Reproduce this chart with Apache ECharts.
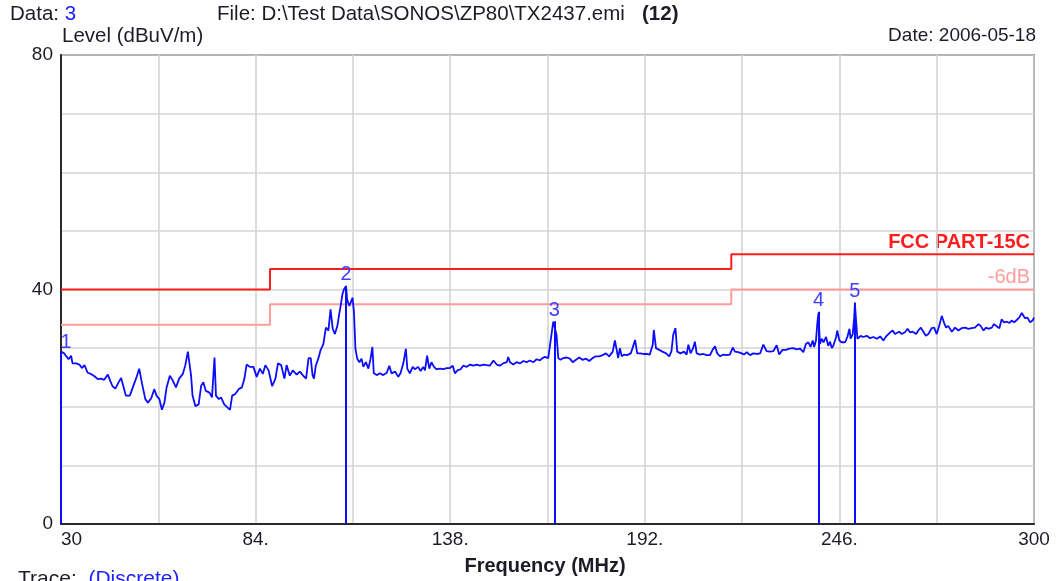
<!DOCTYPE html>
<html>
<head>
<meta charset="utf-8">
<script src="https://cdn.jsdelivr.net/npm/echarts@6/dist/echarts.min.js"></script>
<style>
html,body{margin:0;padding:0;background:#fff;}
#chart{width:1056px;height:581px;}
</style>
</head>
<body>
<div id="chart"></div>
<script>
// ---------- DATA ----------
const xTickValues = [30, 84, 138, 192, 246, 300];
const xTickLabels = ['30', '84.', '138.', '192.', '246.', '300'];
const yTickValues = [0, 40, 80];
const yTickLabels = ['0', '40', '80'];

// FCC PART-15C limit (dBuV/m) and the -6dB margin line
const limitFreq = [30, 88, 88, 216, 216, 300];
const limitLevel = [40, 40, 43.5, 43.5, 46, 46];
const marginLevel = [34, 34, 37.5, 37.5, 40, 40];

// discrete markers
const markerFreq = [30, 109.1, 166.9, 240.2, 250.3];
const markerLevel = [29.4, 40.6, 34.6, 36.2, 37.8];
const markerLabels = ['1', '2', '3', '4', '5'];

// measured trace [MHz, dBuV/m]
const trace30to99 = [
[30,29.4],[30.3,29.5],[30.9,29.1],[31.6,28.5],[32.1,28.1],[32.8,28.7],[33.2,27.4],[34.2,27.4],[35.1,27.2],[35.8,26.6],
[36.5,27.1],[37.4,25.8],[38.3,25.6],[39.3,25.2],[40.2,24.7],[41.1,24.8],[42.0,24.6],[43.0,25.5],[43.6,24.5],[44.3,23.5],
[45.1,23.1],[46.0,24.2],[46.7,24.9],[47.3,23.5],[48.0,21.9],[49.1,21.9],[50.1,23.6],[51.0,25.1],[51.7,26.5],[52.5,23.9],
[53.4,21.3],[54.1,20.7],[55.0,21.4],[55.9,23.0],[56.5,21.9],[57.3,21.3],[58.0,19.5],[58.7,20.7],[59.3,23.3],[60.2,25.3],
[61.0,24.5],[61.9,23.3],[62.8,24.8],[63.8,25.6],[64.5,27.1],[65.2,29.4],[65.6,29.5],[66.1,25.3],[66.5,21.9],[67.3,20.1],
[68.2,20.4],[68.9,23.6],[69.5,24.2],[70.2,22.7],[71.2,22.4],[71.9,21.6],[72.6,28.4],[73.0,21.9],[73.8,21.3],[74.4,21.6],
[75.3,20.4],[76.3,19.8],[76.9,19.5],[77.5,21.9],[78.4,22.2],[79.3,23.0],[80.2,23.3],[80.9,24.8],[81.5,27.2],[82.4,26.8],
[83.4,26.8],[84.3,25.1],[85.2,26.5],[86.0,25.6],[86.7,27.1],[87.6,26.2],[88.6,23.5],[89.5,24.8],[90.2,27.4],[91.1,27.1],
[92.0,24.8],[92.6,27.1],[93.5,25.3],[94.3,26.2],[95.4,25.5],[96.3,26.0],[97.2,25.3],[98.0,24.8],[98.7,28.3]
];
const trace99to165 = [
[99.3,28.3],[99.8,25.4],[100.2,24.8],[100.7,27.0],[101.4,28.2],[102.0,29.6],[102.8,30.7],[103.5,33.5],[104.2,33.0],[104.8,36.6],
[105.4,33.3],[106.0,32.4],[106.7,33.8],[107.2,35.8],[107.6,37.2],[108.1,39.2],[108.5,40.0],[109.1,40.6],[109.4,38.3],[110.0,37.2],
[110.4,37.8],[110.9,38.6],[111.3,36.1],[111.7,29.9],[112.2,28.2],[112.8,27.6],[113.4,28.2],[113.9,26.8],[114.6,27.6],[115.3,26.5],
[115.9,28.2],[116.4,30.2],[116.8,25.7],[117.6,25.4],[118.5,25.7],[119.4,25.4],[120.4,25.8],[121.1,27.0],[121.7,25.7],[122.7,26.0],
[123.6,25.1],[124.2,25.7],[125.0,27.4],[125.7,29.9],[126.1,26.5],[126.8,25.7],[127.6,26.8],[128.2,26.4],[129.1,26.8],[129.8,26.1],
[130.5,26.8],[131.0,26.2],[131.6,28.7],[132.2,26.5],[132.8,27.6],[133.5,26.8],[134.2,26.4],[135.2,26.5],[136.1,26.4],[137.0,26.6],
[137.9,26.6],[138.7,27.0],[139.3,25.7],[140.0,26.2],[140.9,26.4],[141.6,27.0],[142.6,26.8],[143.5,27.2],[144.4,27.0],[145.3,27.2],
[146.3,27.0],[147.2,27.2],[148.1,27.1],[149.0,27.0],[150.0,27.9],[150.9,27.2],[151.8,27.0],[152.7,27.4],[153.7,27.6],[154.1,28.5],
[154.6,27.6],[155.5,27.2],[156.4,27.6],[157.4,27.4],[158.3,27.8],[159.2,27.6],[160.1,27.9],[161.1,27.6],[162.0,28.1],[162.9,27.9],
[163.6,28.3],[164.3,28.5],[165.2,28.3]
];
const trace165to232 = [
[165.5,28.3],[166.1,32.3],[166.6,34.5],[166.9,34.6],[167.1,34.3],[167.5,32.3],[168.0,28.3],[168.6,28.0],[169.4,28.3],[170.3,28.4],
[171.2,28.2],[172.0,27.6],[172.9,28.0],[173.8,28.4],[174.7,28.0],[175.7,28.2],[176.6,27.8],[177.5,28.3],[178.4,28.6],[179.4,28.6],
[180.3,28.8],[181.2,29.1],[182.1,28.6],[183.1,29.4],[183.7,31.3],[184.2,29.7],[184.6,28.3],[185.1,30.0],[185.6,28.6],[186.2,28.9],
[187.1,28.8],[188.1,29.1],[188.6,30.0],[189.3,31.4],[189.9,29.1],[190.7,29.1],[191.6,29.0],[192.5,29.0],[193.4,28.9],[194.2,30.6],
[194.5,33.1],[195.1,30.0],[196.0,29.7],[196.9,29.4],[197.9,29.1],[198.8,28.6],[199.4,29.5],[199.9,32.3],[200.5,33.4],[201.0,29.4],
[201.9,29.1],[202.9,29.4],[203.6,28.9],[204.1,30.6],[204.7,29.1],[205.4,30.0],[205.9,31.1],[206.4,29.1],[207.3,28.9],[208.2,29.0],
[209.2,28.8],[210.1,28.8],[210.8,29.7],[211.5,30.3],[212.1,29.1],[212.9,28.6],[213.8,28.9],[214.7,28.8],[215.6,28.9],[216.4,30.1],
[217.0,29.4],[217.9,29.3],[218.9,29.1],[219.5,28.9],[220.3,29.3],[221.2,28.8],[222.1,29.1],[223.0,29.0],[224.0,29.1],[224.9,30.6],
[225.8,29.5],[226.7,29.4],[227.7,29.5],[228.6,30.5],[229.3,28.9],[230.2,29.7],[231.2,29.7],[232.1,29.9]
];
const trace232to300 = [
[233.2,30.0],[234.1,29.8],[235.1,29.9],[236.0,29.3],[236.7,30.7],[237.4,31.0],[238.0,30.2],[238.6,31.3],[239.0,30.2],[239.5,31.3],
[239.9,34.4],[240.2,36.0],[240.6,30.7],[241.1,31.6],[241.6,31.0],[242.3,31.9],[242.9,30.4],[243.4,31.1],[243.9,30.0],[244.3,30.4],
[245.1,31.9],[245.4,33.0],[246.0,31.3],[246.6,31.0],[247.6,31.0],[248.2,31.9],[248.8,33.3],[249.1,31.6],[249.7,32.4],[250.1,35.2],
[250.3,37.6],[250.6,34.9],[251.0,31.6],[251.5,31.3],[251.9,32.1],[252.6,31.9],[253.6,32.1],[254.5,31.7],[255.4,31.9],[256.4,31.6],
[257.3,32.0],[258.2,31.3],[259.1,32.1],[260.1,32.7],[260.8,33.0],[261.4,32.4],[261.9,32.1],[262.6,32.8],[263.3,32.4],[264.2,32.7],
[264.9,33.3],[265.6,32.7],[266.3,32.8],[267.3,32.4],[267.9,33.0],[268.6,33.5],[269.3,32.8],[270.0,32.1],[270.7,32.4],[271.6,33.4],
[272.3,33.5],[273.0,32.4],[273.7,33.8],[274.4,35.5],[275.0,34.4],[275.6,33.5],[276.2,33.8],[277.2,32.8],[278.1,33.5],[279.0,33.0],
[279.9,33.4],[280.9,33.5],[281.8,33.3],[282.7,33.4],[283.6,33.5],[284.6,34.1],[285.2,33.8],[286.0,33.0],[286.7,33.5],[287.3,33.3],
[288.3,33.5],[288.9,34.1],[289.7,33.7],[290.4,33.4],[291.0,34.9],[291.7,34.4],[292.4,34.5],[293.2,34.3],[293.8,34.7],[294.5,34.4],
[295.2,34.8],[295.9,35.2],[296.6,36.0],[297.1,35.8],[297.5,35.1],[298.2,35.2],[298.9,34.4],[299.6,34.7],[300,35.2]
];

// ---------- BUILD ----------
const FONT = 'Liberation Sans';
const TXT = '#1c1c28';
const traceData = [].concat(trace30to99, trace99to165, trace165to232, trace232to300);
const limitData = limitFreq.map((f, i) => [f, limitLevel[i]]);
const marginData = limitFreq.map((f, i) => [f, marginLevel[i]]);
const markerLines = markerFreq.map((f, i) => [
  { coord: [f, 0] },
  { coord: [f, markerLevel[i]], label: i === 0 ? { formatter: markerLabels[i], offset: [5, 2] } : { formatter: markerLabels[i] } }
]);

const chart = echarts.init(document.getElementById('chart'));
chart.setOption({
  animation: false,
  backgroundColor: '#fff',
  textStyle: { fontFamily: FONT },
  grid: { left: 61, right: 22, top: 55, bottom: 57, show: true, borderColor: '#2a2a2a', borderWidth: 1.5, backgroundColor: 'transparent' },
  xAxis: {
    type: 'value', min: 30, max: 300, interval: 27,
    axisLine: { show: true, onZero: false, lineStyle: { color: '#2a2a2a', width: 2 } },
    axisTick: { show: false },
    splitLine: { show: true, lineStyle: { color: '#d4d4d4', width: 1.6 } },
    axisLabel: {
      color: TXT, fontSize: 19, fontFamily: FONT, margin: 6,
      alignMinLabel: 'left',
      formatter: v => { const i = xTickValues.indexOf(Math.round(v)); return i >= 0 ? xTickLabels[i] : ''; }
    }
  },
  yAxis: {
    type: 'value', min: 0, max: 80, interval: 10,
    axisLine: { show: true, lineStyle: { color: '#2a2a2a', width: 2 } },
    axisTick: { show: false },
    splitLine: { show: true, lineStyle: { color: '#d4d4d4', width: 1.6 } },
    axisLabel: {
      color: TXT, fontSize: 19, fontFamily: FONT, margin: 8,
      formatter: v => { const i = yTickValues.indexOf(Math.round(v)); return i >= 0 ? yTickLabels[i] : ''; }
    }
  },
  series: [
    { name: '-6dB', type: 'line', data: marginData, showSymbol: false, silent: true,
      lineStyle: { color: '#ff9c9c', width: 2 }, z: 2 },
    { name: 'FCC PART-15C', type: 'line', data: limitData, showSymbol: false, silent: true,
      lineStyle: { color: '#ff1c1c', width: 2 }, z: 3 },
    { name: 'trace', type: 'line', data: traceData, showSymbol: false, silent: true,
      lineStyle: { color: '#0c0cff', width: 1.8 }, z: 4,
      markLine: {
        silent: true, symbol: ['none', 'none'], animation: false,
        lineStyle: { color: '#0c0cff', width: 2, type: 'solid' },
        label: { show: true, position: 'end', distance: 1, color: '#4040ff', fontSize: 20, fontFamily: FONT },
        data: markerLines
      }
    }
  ],
  graphic: [
    { type: 'text', left: 10, top: 4, style: { text: '{a|Data: }{b|3}', rich: {
        a: { fill: TXT, font: '20.5px ' + FONT }, b: { fill: '#2020ff', font: '20.5px ' + FONT } } } },
    { type: 'text', left: 217, top: 4, style: { text: 'File: D:\\Test Data\\SONOS\\ZP80\\TX2437.emi', fill: TXT, font: '20.5px ' + FONT } },
    { type: 'text', left: 642, top: 4, style: { text: '(12)', fill: TXT, font: 'bold 20.5px ' + FONT } },
    { type: 'text', left: 62, top: 26, style: { text: 'Level (dBuV/m)', fill: TXT, font: '20.5px ' + FONT } },
    { type: 'text', right: 20, top: 26, style: { text: 'Date: 2006-05-18', fill: TXT, font: '19px ' + FONT } },
    { type: 'text', x: 545, y: 556, style: { text: 'Frequency (MHz)', fill: TXT, font: 'bold 20px ' + FONT, align: 'center', verticalAlign: 'top' } },
    { type: 'text', left: 18, top: 569, style: { text: '{a|Trace:  }{b|(Discrete)}', rich: {
        a: { fill: TXT, font: '21px ' + FONT }, b: { fill: '#2020ff', font: '21px ' + FONT } } } },
    { type: 'text', x: 1030, y: 232, style: { text: 'FCC PART-15C', fill: '#ff1c1c', font: 'bold 20px ' + FONT, align: 'right', verticalAlign: 'top' } },
    { type: 'text', x: 1030, y: 267, style: { text: '-6dB', fill: '#ff9c9c', font: '20px ' + FONT, align: 'right', verticalAlign: 'top' } }
  ]
});
</script>
</body>
</html>
